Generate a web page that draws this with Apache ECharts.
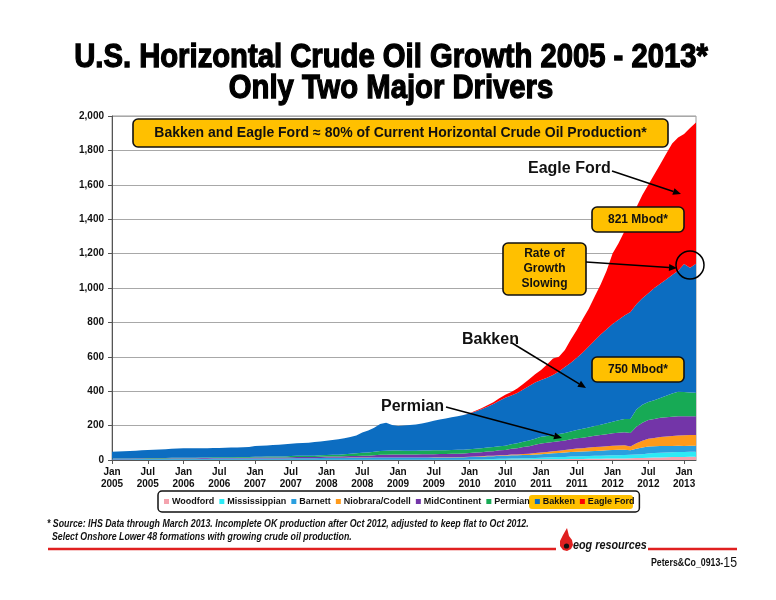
<!DOCTYPE html>
<html><head><meta charset="utf-8">
<script src="https://cdn.jsdelivr.net/npm/echarts@6/dist/echarts.min.js"></script>
<style>html,body{margin:0;padding:0;background:#fff}#c{width:776px;height:600px}</style>
</head><body><div id="c"></div>
<script>
var years = ['2005','2006','2007','2008','2009','2010','2011','2012','2013'];
var monthNames = ['Jan','Feb','Mar','Apr','May','Jun','Jul','Aug','Sep','Oct','Nov','Dec'];
var lastMonthCount = 3; // data through March 2013
var yTicks = [0,200,400,600,800,1000,1200,1400,1600,1800,2000];

var woodford = [0,0,0,0,0,0,0,0,0,0,0,0, 0,0,0,0,0,0,0,0,0,0,0,0, 0,0,0,0,0,0,0,0,0,0,0,0, 0,0,0,0,0,0,0,0,0,0,0,0, 0,0,0,0,0,0,0,0,0,0,0,0,
  1,1,1,2,2,2,2,3,3,3,3,4, 4,4,5,5,5,6,6,6,7,7,7,8, 8,9,9,10,11,12,13,14,15,16,17,18, 18,19,19];
var mississippian = [1,1,1,1,1,1,1,1,1,1,1,1, 1,1,1,1,1,1,1,1,1,1,1,1, 1,1,1,1,1,1,1,1,1,1,1,1, 2,2,2,2,2,2,2,2,2,2,2,2, 2,2,2,2,2,2,2,2,2,2,2,2,
  2,3,3,4,4,5,5,6,6,7,7,8, 9,10,11,12,13,14,15,16,16,17,17,18, 19,19,20,20,21,22,25,26,27,28,28,29, 29,29,29];
var barnett = [4,4,4,4,5,5,5,5,5,5,6,6, 6,6,6,6,6,7,7,7,7,7,7,7, 8,8,8,8,8,8,9,9,9,9,9,10, 10,10,10,10,11,11,11,11,12,12,12,12, 12,12,12,12,12,12,13,13,13,13,14,14,
  14,15,15,16,16,17,17,18,18,19,19,20, 21,22,23,24,25,26,27,27,28,29,30,30, 31,31,31,27,34,38,40,40,39,38,37,36, 35,35,35];
var niobrara = [0,0,0,0,0,0,0,0,0,0,0,0, 0,0,0,0,0,0,0,0,0,0,0,0, 0,0,0,0,0,0,0,0,0,0,0,0, 1,1,1,1,1,1,1,1,1,1,1,1, 1,1,1,1,1,1,1,1,1,1,1,1,
  2,2,3,3,3,4,4,5,5,6,7,8, 10,11,12,13,15,17,19,20,21,22,23,24, 25,26,26,22,32,40,45,48,52,55,58,60, 62,62,62];
var midContinent = [2,2,2,2,2,2,3,3,3,3,3,3, 3,3,3,4,4,4,4,4,4,5,5,5, 5,5,5,6,6,6,6,7,7,7,7,8, 8,8,8,9,9,9,10,11,13,15,16,17, 17,17,17,17,18,18,18,19,19,20,20,21,
  21,22,23,24,26,28,30,33,36,40,44,48, 52,53,54,55,56,57,59,61,63,66,68,70, 72,74,76,78,95,105,110,111,112,112,112,112, 111,110,110];
var permian = [1,1,1,2,2,2,2,2,2,2,3,3, 3,3,3,3,4,4,4,4,4,5,5,5, 5,5,6,6,6,6,7,7,7,7,8,8, 8,9,10,12,14,16,18,19,20,22,23,23, 23,22,22,22,22,22,22,22,22,22,22,22,
  22,22,23,23,24,24,25,27,29,31,33,36, 39,40,41,42,43,45,48,51,54,57,60,64, 68,72,76,82,100,104,104,108,115,125,135,142, 140,138,136];
var bakken = [40,42,43,44,44,46,47,48,50,52,52,54, 55,55,56,55,54,54,54,55,56,55,56,58, 62,64,65,66,68,71,72,73,75,77,79,81, 83,86,89,92,96,103,118,128,140,158,162,148, 143,146,149,153,157,165,172,179,185,190,195,202,
  208,217,227,238,250,265,279,283,293,304,317,326, 330,338,348,364,383,400,421,444,471,497,525,546, 567,584,602,621,612,619,633,653,665,676,688,703, 745,725,750];
var eagleFord = [0,0,0,0,0,0,0,0,0,0,0,0, 0,0,0,0,0,0,0,0,0,0,0,0, 0,0,0,0,0,0,0,0,0,0,0,0, 0,0,0,0,0,0,0,0,0,0,0,0, 0,0,0,0,0,0,0,0,0,0,0,0,
  2,4,6,8,11,14,17,21,26,32,40,48, 58,77,96,85,100,135,161,195,220,255,290,340, 410,445,490,535,565,600,630,660,695,730,765,775, 755,812,821];

var seriesNames = ['Woodford','Mississippian','Barnett','Niobrara/Codell','MidContinent','Permian','Bakken','Eagle Ford'];
var seriesData = [woodford, mississippian, barnett, niobrara, midContinent, permian, bakken, eagleFord];
var seriesColors = ['#F4A3AE','#2EEAF5','#2A9FDF','#FF9A1A','#7335A8','#17AA55','#0C6DC1','#FF0000'];

var categories = [];
years.forEach(function(y, yi){
  var n = (yi === years.length-1) ? lastMonthCount : 12;
  for (var m=0;m<n;m++) categories.push(monthNames[m]+'\n'+y);
});

var chart = echarts.init(document.getElementById('c'), null, {renderer:'canvas'});
var F = 'Liberation Sans, Arial, sans-serif';
var gold = '#FFC000';

function box(x,y,w,h,text,fs){
  return [
    {type:'rect', z:100, shape:{x:x,y:y,width:w,height:h,r:5}, style:{fill:gold, stroke:'#111', lineWidth:1.6}},
    {type:'text', z:101, style:{x:x+w/2, y:y+h/2, text:text, align:'center', verticalAlign:'middle', font:'bold '+fs+'px '+F, fill:'#111', lineHeight:fs+3}}
  ];
}
function arrow(x1,y1,x2,y2){
  var a = Math.atan2(y2-y1,x2-x1), L=8, W=3.5;
  var bx = x2 - L*Math.cos(a), by = y2 - L*Math.sin(a);
  var px = -Math.sin(a)*W, py = Math.cos(a)*W;
  return [
    {type:'line', z:100, shape:{x1:x1,y1:y1,x2:bx,y2:by}, style:{stroke:'#000', lineWidth:1.5}},
    {type:'polygon', z:100, shape:{points:[[x2,y2],[bx+px,by+py],[bx-px,by-py]]}, style:{fill:'#000'}}
  ];
}
function label(x,y,text){
  return {type:'text', z:101, style:{x:x,y:y,text:text,align:'left',verticalAlign:'middle',font:'bold 16px '+F,fill:'#111'}};
}

var graphics = [];
graphics.push({type:'text', x:391, y:58, scaleX:0.86, z:50, style:{x:0,y:0,text:'U.S. Horizontal Crude Oil Growth 2005 - 2013*',align:'center',verticalAlign:'middle',font:'bold 34px '+F,fill:'#000',stroke:'#000',lineWidth:1.3}});
graphics.push({type:'text', x:391, y:89, scaleX:0.86, z:50, style:{x:0,y:0,text:'Only Two Major Drivers',align:'center',verticalAlign:'middle',font:'bold 34px '+F,fill:'#000',stroke:'#000',lineWidth:1.3}});

graphics = graphics.concat(box(133,119,535,28,'Bakken and Eagle Ford \u2248 80% of Current Horizontal Crude Oil Production*',14));
graphics.push(label(528,169,'Eagle Ford'));
graphics = graphics.concat(arrow(612,171,681,194));
graphics = graphics.concat(box(592,207,92,25,'821 Mbod*',12));
graphics = graphics.concat(box(503,243,83,52,'Rate of\nGrowth\nSlowing',12));
graphics = graphics.concat(arrow(586,262,677,268));
graphics.push({type:'circle', z:102, shape:{cx:690,cy:265,r:14}, style:{fill:'none',stroke:'#000',lineWidth:1.5}});
graphics = graphics.concat(box(592,357,92,25,'750 Mbod*',12));
graphics.push(label(462,340,'Bakken'));
graphics = graphics.concat(arrow(512,343,586,388));
graphics.push(label(381,407,'Permian'));
graphics = graphics.concat(arrow(446,407,562,438));
graphics.push({type:'rect', z:0, shape:{x:529,y:495,width:104,height:14,r:3}, style:{fill:gold}});
graphics.push({type:'text', x:47, y:524, scaleX:0.88, style:{x:0,y:0,text:'* Source: IHS Data through March 2013. Incomplete OK production after Oct 2012, adjusted to keep flat to Oct 2012.',font:'italic bold 10px '+F,fill:'#111',verticalAlign:'middle'}});
graphics.push({type:'text', x:52, y:537, scaleX:0.88, style:{x:0,y:0,text:'Select Onshore Lower 48 formations with growing crude oil production.',font:'italic bold 10px '+F,fill:'#111',verticalAlign:'middle'}});
graphics.push({type:'line', shape:{x1:48,y1:549,x2:556,y2:549}, style:{stroke:'#E02020',lineWidth:2.5}});
graphics.push({type:'line', shape:{x1:648,y1:549,x2:737,y2:549}, style:{stroke:'#E02020',lineWidth:2.5}});
graphics.push({type:'polygon', shape:{points:[[567,528],[563,535],[560,541],[560,546],[563,550],[567,551],[571,549],[573,545],[572,540],[569,536],[568,532]]}, style:{fill:'#E02020'}});
graphics.push({type:'circle', shape:{cx:566.5,cy:546,r:2.6}, style:{fill:'#111'}});
graphics.push({type:'text', x:573, y:546, scaleX:0.9, style:{x:0,y:0,text:'eog resources',font:'italic bold 12px '+F,fill:'#111',verticalAlign:'middle'}});
graphics.push({type:'text', x:737, y:563, scaleX:0.88, style:{x:0,y:0,text:'{a|Peters&Co_0913-}{b|15}',align:'right',verticalAlign:'middle',rich:{a:{font:'bold 10px '+F,fill:'#111'},b:{font:'14px '+F,fill:'#111'}}}});

var series = seriesNames.map(function(n,i){
  return {name:n, type:'line', stack:'total', data:seriesData[i], symbol:'none', showSymbol:false,
    lineStyle:{width:0}, areaStyle:{color:seriesColors[i], opacity:1}, itemStyle:{color:seriesColors[i]}, emphasis:{disabled:true}, animation:false};
});

chart.setOption({
  animation:false,
  backgroundColor:'#fff',
  grid:{left:112, right:80, top:116, bottom:140, show:true, borderColor:'#999', borderWidth:1},
  legend:{data:seriesNames, left:158, top:491, icon:'rect', itemWidth:5, itemHeight:5, itemGap:5,
    padding:[6,5,6,6], borderColor:'#111', borderWidth:1.5, borderRadius:4, selectedMode:false,
    textStyle:{fontFamily:F, fontWeight:'bold', fontSize:9, color:'#111', padding:[0,0,0,-2]}},
  xAxis:{type:'category', data:categories, boundaryGap:false,
    axisLine:{lineStyle:{color:'#555'}},
    axisTick:{interval:5, length:4, inside:false, lineStyle:{color:'#555'}},
    axisLabel:{interval:5, color:'#111', fontFamily:F, fontWeight:'bold', fontSize:10, lineHeight:12, margin:6},
    splitLine:{show:false}},
  yAxis:{type:'value', min:yTicks[0], max:yTicks[yTicks.length-1], interval:200,
    axisLine:{show:true, lineStyle:{color:'#555'}},
    axisTick:{show:true, length:4, lineStyle:{color:'#555'}},
    axisLabel:{color:'#111', fontFamily:F, fontWeight:'bold', fontSize:10, margin:8,
      formatter:function(v){ return v.toLocaleString('en-US'); }},
    splitLine:{lineStyle:{color:'#A8A8A8', width:1}}},
  series:series,
  graphic:{elements:graphics}
});
</script></body></html>
